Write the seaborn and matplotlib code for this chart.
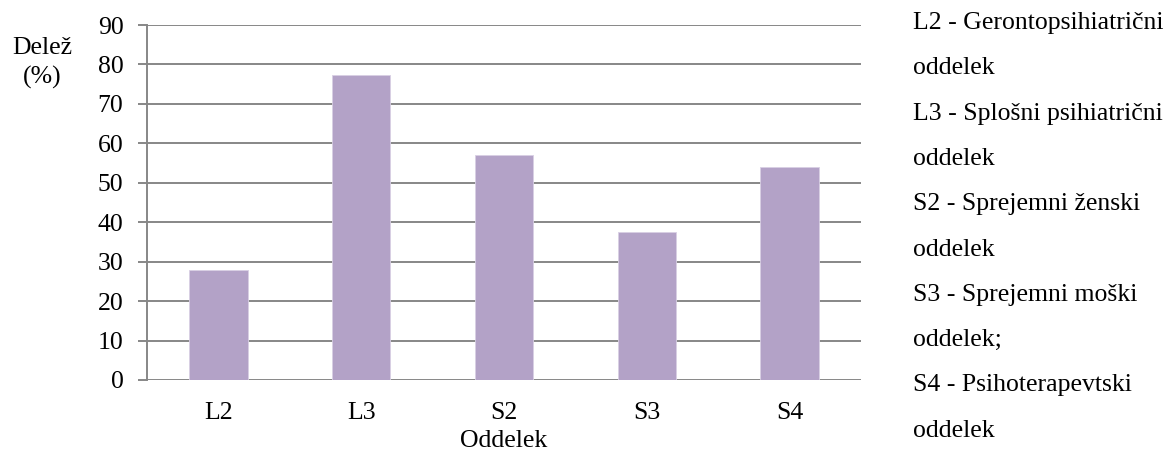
import matplotlib
matplotlib.use("Agg")
import matplotlib.pyplot as plt
import seaborn as sns
import pandas as pd

categories = ["L2", "L3", "S2", "S3", "S4"]
values = [27.8, 77.2, 57.0, 37.6, 54.1]
y_ticks = [0, 10, 20, 30, 40, 50, 60, 70, 80, 90]
x_label = "Oddelek"
y_label = "Delež\n(%)"
legend_lines = [
    "L2 - Gerontopsihiatrični",
    "oddelek",
    "L3 - Splošni psihiatrični",
    "oddelek",
    "S2 - Sprejemni ženski",
    "oddelek",
    "S3 - Sprejemni moški",
    "oddelek;",
    "S4 - Psihoterapevtski",
    "oddelek",
]

sns.set_theme(style="white")
plt.rcParams["font.family"] = ["Liberation Serif", "DejaVu Serif"]

FS = 18.5
df = pd.DataFrame({"cat": categories, "val": values})

W, H = 1174, 453
fig = plt.figure(figsize=(W / 100, H / 100), dpi=100)
ax = fig.add_axes([147 / W, 1 - 380 / H, (861 - 147) / W, (380 - 25) / H])

grid_color = "#878787"
sns.barplot(data=df, x="cat", y="val", color="#B3A2C7", saturation=1,
            width=0.41, edgecolor="#D8CFE4", linewidth=0.6, ax=ax, zorder=3)

ax.set_ylim(0, 90)
ax.set_xlim(-0.5, len(categories) - 0.5)
ax.set_yticks(y_ticks)
ax.set_yticklabels([str(t) for t in y_ticks])
ax.yaxis.grid(True, color=grid_color, linewidth=1.4, zorder=0)
ax.set_axisbelow(True)
for s in ["top", "right", "bottom"]:
    ax.spines[s].set_visible(False)
ax.spines["left"].set_color(grid_color)
ax.spines["left"].set_linewidth(1.4)
ax.tick_params(axis="y", length=6.5, width=1.4, color=grid_color,
               labelsize=FS, labelcolor="black", pad=10.5, left=True)
ax.tick_params(axis="x", length=0, labelsize=FS, labelcolor="black", pad=16)
ax.set_xlabel(x_label, fontsize=FS, color="black", labelpad=4)
ax.set_ylabel("")

fig.text(42 / W, 1 - 63 / H, y_label, ha="center", va="center",
         fontsize=FS, color="black", linespacing=1.4)

x0 = 913 / W
for i, line in enumerate(legend_lines):
    y = 23 + i * 45.3
    fig.text(x0, 1 - y / H, line, ha="left", va="center",
             fontsize=FS, color="black")

fig.savefig("out.png", dpi=100)
